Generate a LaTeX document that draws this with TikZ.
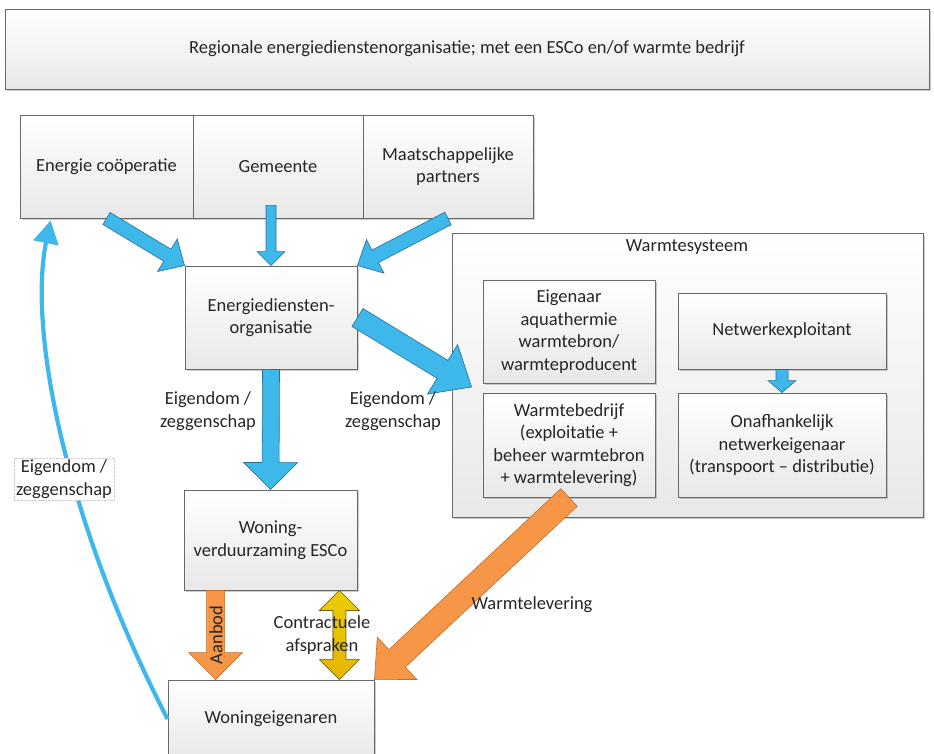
\documentclass[tikz,border=0pt]{standalone}
\usepackage{fontspec}
\setmainfont{Carlito}
\usetikzlibrary{calc,shadows,arrows.meta}
\definecolor{blufill}{RGB}{62,184,234}
\definecolor{bluline}{RGB}{40,110,150}
\definecolor{orfill}{RGB}{247,150,70}
\definecolor{orline}{RGB}{190,110,50}
\definecolor{gdfill}{RGB}{228,182,0}
\definecolor{gdline}{RGB}{120,100,20}
\definecolor{boxline}{RGB}{105,105,105}

% block arrow: style, from, to, half shaft, half head, head length
\newcommand\blkarrow[6]{%
  \coordinate (bah) at ($#3!#6!#2$);
  \filldraw[#1] ($#2!#4!90:#3$) -- ($(bah)!#4!90:#3$) -- ($(bah)!#5!90:#3$) -- #3
    -- ($(bah)!#5!-90:#3$) -- ($(bah)!#4!-90:#3$) -- ($#2!#4!-90:#3$) -- cycle;}
% double block arrow
\newcommand\dblarrow[6]{%
  \coordinate (dbA) at ($#2!#6!#3$);
  \coordinate (dbB) at ($#3!#6!#2$);
  \filldraw[#1] #2 -- ($(dbA)!#5!90:#3$) -- ($(dbA)!#4!90:#3$) -- ($(dbB)!#4!90:#3$)
    -- ($(dbB)!#5!90:#3$) -- #3 -- ($(dbB)!#5!-90:#3$) -- ($(dbB)!#4!-90:#3$)
    -- ($(dbA)!#4!-90:#3$) -- ($(dbA)!#5!-90:#3$) -- cycle;}

\tikzset{
  every node/.style={font=\fontsize{18.5}{22.5}\selectfont, text=black!85},
  box/.style={draw=boxline, line width=0.9pt, top color=white, bottom color=black!9,
    inner sep=2pt, align=center,
    drop shadow={shadow xshift=2pt, shadow yshift=-2pt, opacity=.4}},
  bluarrow/.style={fill=blufill, draw=bluline, line width=0.6pt, line join=miter},
  orarrow/.style={fill=orfill, draw=orline, line width=0.6pt, line join=miter},
  gdarrow/.style={top color=gdfill!70!yellow, bottom color=gdfill, draw=gdline, line width=0.6pt, line join=miter},
  lbl/.style={align=center, inner sep=2pt}
}

\begin{document}
\begin{tikzpicture}[x=1pt, y=-1pt]
\useasboundingbox (0,0) rectangle (934,754);

% boxes
\node[box, minimum width=924pt, minimum height=80pt] (top) at (467,49)
  {Regionale energiedienstenorganisatie; met een ESCo en/of warmte bedrijf};
\node[box, minimum width=173pt, minimum height=103pt] (coop) at (106.5,166.5) {Energie coöperatie};
\node[box, minimum width=170pt, minimum height=103pt] (gem) at (278,166.5) {Gemeente};
\node[box, minimum width=170pt, minimum height=103pt] (maat) at (448,166.5) {Maatschappelijke\\partners};
\node[box, minimum width=172pt, minimum height=103pt] (energ) at (271,317.5) {Energiediensten-\\organisatie};
\node[box, minimum width=471pt, minimum height=284pt] (warm) at (687.5,375) {};
\node[lbl] (warmtitle) at (687,247) {Warmtesysteem};
\node[box, minimum width=172pt, minimum height=103pt] (eig) at (569,331.5)
  {Eigenaar\\aquathermie\\warmtebron/\\warmteproducent};
\node[box, minimum width=208pt, minimum height=76pt] (netw) at (782,331) {Netwerkexploitant};
\node[box, minimum width=172pt, minimum height=104pt] (warmb) at (569,445)
  {Warmtebedrijf\\(exploitatie +\\beheer warmtebron\\+ warmtelevering)};
\node[box, minimum width=208pt, minimum height=104pt] (onaf) at (782,445)
  {Onafhankelijk\\netwerkeigenaar\\(transpoort -- distributie)};
\node[box, minimum width=173pt, minimum height=100pt] (esco) at (270.5,540)
  {Woning-\\verduurzaming ESCo};
\node[box, minimum width=206pt, minimum height=78pt] (woning) at (271,719) {Woningeigenaren};

% helper coordinates
\coordinate (gemout) at ($(energ.north |- gem.south)+(0,-13)$);
\coordinate (warmin) at ($(warm.west)+(20,12)$);
\coordinate (aanA) at ($(esco.south west)+(32,0)$);
\coordinate (aanB) at ($(woning.north west)+(48,0)$);
\coordinate (conA) at ($(esco.south east)+(-18,0)$);
\coordinate (conB) at ($(woning.north east)+(-35,0)$);
\coordinate (coopin) at ($(coop.south west)+(31,2)$);

% block arrows
\blkarrow{bluarrow}{(coop.south)}{(energ.north west)}{7pt}{19pt}{20pt}
\blkarrow{bluarrow}{(gemout)}{(energ.north)}{5pt}{14pt}{14pt}
\blkarrow{bluarrow}{(maat.south)}{(energ.north east)}{7pt}{19pt}{20pt}
\blkarrow{bluarrow}{(energ.east)}{(warmin)}{10.5pt}{29pt}{34pt}
\blkarrow{bluarrow}{(energ.south)}{(esco.north)}{8.5pt}{27pt}{27pt}
\blkarrow{bluarrow}{(netw.south)}{(onaf.north)}{6pt}{14pt}{12pt}
\blkarrow{orarrow}{(warmb.south)}{(woning.north east)}{12pt}{29pt}{31pt}
\blkarrow{orarrow}{(aanA)}{(aanB)}{9pt}{27pt}{27pt}
\dblarrow{gdarrow}{(conA)}{(conB)}{6.5pt}{20pt}{20pt}

% curved ownership arrow
\draw[blufill, line width=4.2pt, -{Triangle[width=25pt,length=23pt]}]
  (woning.west) .. controls (65,520) and (28,330) .. (coopin);

% labels
\node[lbl] (l1) at (208,411) {Eigendom /\\zeggenschap};
\node[lbl] (l2) at (393,411) {Eigendom /\\zeggenschap};
\node[lbl] (l3) at (532,605) {Warmtelevering};
\node[lbl] (l4) at (322,635) {Contractuele\\afspraken};
\node[lbl, rotate=90] (l5) at (216,635) {Aanbod};
\node[lbl, fill=white, draw=gray!40, densely dotted] (l6) at (64,479) {Eigendom /\\zeggenschap};
\end{tikzpicture}
\end{document}
